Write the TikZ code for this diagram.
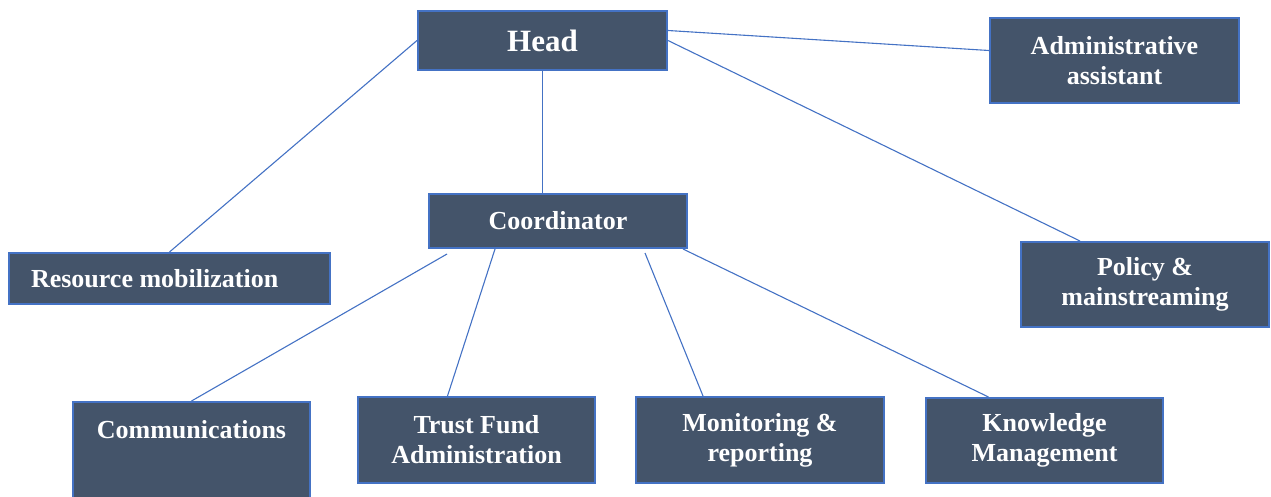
\documentclass[tikz,border=0pt]{standalone}
\usepackage{fontspec}
\setmainfont{Liberation Serif}
\usepackage{xcolor}
\usepackage{tikz}
\definecolor{unitfill}{HTML}{44546A}
\definecolor{unitline}{HTML}{4472C4}

\begin{document}
\begin{tikzpicture}[
  x=1pt, y=-1pt,
  unit/.style={rectangle, draw=unitline, line width=2pt, fill=unitfill, text=white, align=flush center, inner sep=0pt, font=\fontsize{26}{30}\selectfont\bfseries},
  link/.style={draw=unitline, line width=1.1pt}
]
  \useasboundingbox (0,0) rectangle (1271,496);

  \node[unit, minimum width=249pt, minimum height=59pt, font=\fontsize{31}{34}\selectfont\bfseries] (head) at (542.5,40.5) {Head};
  \node[unit, minimum width=249pt, minimum height=85pt] (admin) at (1114.5,60.5) {Administrative\\assistant};
  \node[unit, minimum width=258pt, minimum height=54pt] (coord) at (558,221) {Coordinator};
  \node[unit, minimum width=321pt, minimum height=51pt, align=flush left, text width=277pt, inner xsep=22pt] (res) at (169.5,278.5) {Resource mobilization};
  \node[unit, minimum width=248pt, minimum height=85pt] (policy) at (1145,284.5) {Policy \&\\mainstreaming};

  \node[unit, minimum width=237pt, anchor=north, text height=36pt, text depth=64pt] (comm) at (191.5,401) {Communications};
  \node[unit, minimum width=237pt, minimum height=86pt] (trust) at (476.5,440) {Trust Fund\\Administration};
  \node[unit, minimum width=248pt, minimum height=86pt] (monitor) at (760,440) {Monitoring \&\\reporting};
  \node[unit, minimum width=237pt, minimum height=85pt] (know) at (1044.5,440.5) {Knowledge\\Management};

  \draw[link] (head.west) -- (res.north);
  \draw[link] (head.south) -- (head.south |- coord.north);
  \draw[link] ([yshift=10pt]head.east) -- ([yshift=10pt]admin.west);
  \draw[link] (head.east) -- ([xshift=-65pt]policy.north);

  \draw[link] ([xshift=-111pt,yshift=-5pt]coord.south) -- (comm.north);
  \draw[link] ([xshift=-63pt]coord.south) -- ([xshift=-29pt]trust.north);
  \draw[link] ([xshift=87pt,yshift=-4pt]coord.south) -- ([xshift=-57pt]monitor.north);
  \draw[link] ([xshift=125pt]coord.south) -- ([xshift=-56pt]know.north);
\end{tikzpicture}
\end{document}
